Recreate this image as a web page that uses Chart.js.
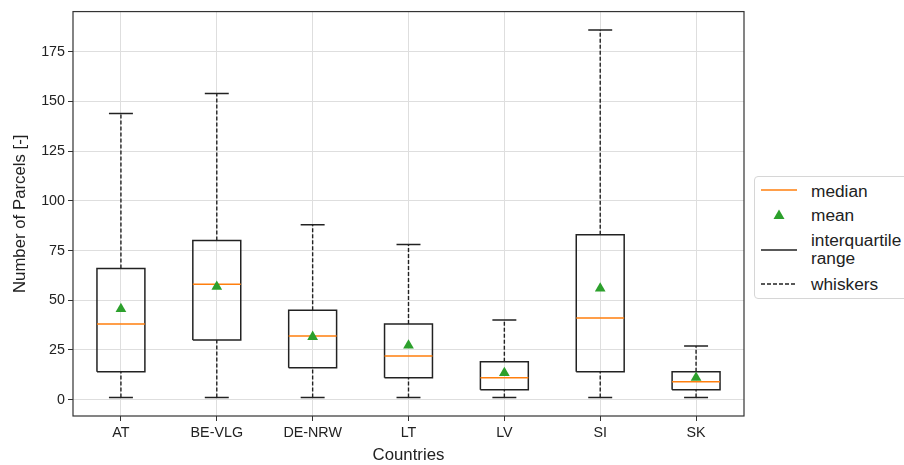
<!doctype html><html lang="en"><head>
<meta charset="UTF-8"><title>Number of Parcels per country</title>
<script src="https://cdn.jsdelivr.net/npm/chart.js@4/dist/chart.umd.min.js"></script>
<style>
 body{margin:0;background:#fff;font-family:"Liberation Sans",Arial,sans-serif}
 #wrap{position:relative;width:904px;height:465px}
 #legend{position:absolute;left:754px;top:176px;width:170px;height:123px;border:1px solid #d6d6d6;border-radius:4px;background:#fff;box-sizing:border-box}
 #legend .t{position:absolute;left:56px;font-size:17.3px;line-height:18px;color:#222;white-space:nowrap}
 #legend svg{position:absolute;left:0;top:0}
</style></head><body>
<div id="wrap">
  <canvas id="box" width="904" height="465"></canvas>
  <div id="legend">
    <svg width="60" height="123">
      <line x1="6" y1="13" x2="42" y2="13" stroke="#ff7f0e" stroke-width="1.5"/>
      <polygon points="24,32.5 29.5,42 18.5,42" fill="#2ca02c"/>
      <line x1="6" y1="73" x2="42" y2="73" stroke="#222" stroke-width="1.5"/>
      <line x1="6" y1="107" x2="42" y2="107" stroke="#222" stroke-width="1.4" stroke-dasharray="4,2"/>
    </svg>
    <div class="t" style="top:5px">median</div>
    <div class="t" style="top:29px">mean</div>
    <div class="t" style="top:54px">interquartile<br>range</div>
    <div class="t" style="top:98px">whiskers</div>
  </div>
</div>
<script>
// ----- data -----
const categories  = ['AT','BE-VLG','DE-NRW','LT','LV','SI','SK'];
const whiskerLow  = [1, 1, 1, 1, 1, 1, 1];
const q1          = [14, 30, 16, 11, 5, 14, 5];
const medians     = [38, 58, 32, 22, 11, 41, 9];
const q3          = [66, 80, 45, 38, 19, 83, 14];
const whiskerHigh = [144, 154, 88, 78, 40, 186, 27];
const means       = [45.6, 56.8, 31.6, 27.3, 13.4, 55.9, 11];
const yTicks      = [0, 25, 50, 75, 100, 125, 150, 175];

const BOX_HALF = 0.25, CAP_HALF = 0.125;
const GAP = {x:null, y:null};

// build segment lists (positions 1..n on a linear x scale)
const whiskerPts = [], capPts = [], boxPts = [], medPts = [];
categories.forEach((c,i)=>{
  const x = i+1;
  whiskerPts.push({x, y:q3[i]}, {x, y:whiskerHigh[i]}, GAP,
                  {x, y:whiskerLow[i]}, {x, y:q1[i]}, GAP);
  capPts.push({x:x-CAP_HALF, y:whiskerHigh[i]}, {x:x+CAP_HALF, y:whiskerHigh[i]}, GAP,
              {x:x-CAP_HALF, y:whiskerLow[i]},  {x:x+CAP_HALF, y:whiskerLow[i]},  GAP);
  boxPts.push({x:x-BOX_HALF, y:q1[i]}, {x:x+BOX_HALF, y:q1[i]}, {x:x+BOX_HALF, y:q3[i]},
              {x:x-BOX_HALF, y:q3[i]}, {x:x-BOX_HALF, y:q1[i]}, GAP);
  medPts.push({x:x-BOX_HALF, y:medians[i]}, {x:x+BOX_HALF, y:medians[i]}, GAP);
});
const meanPts = means.map((m,i)=>({x:i+1, y:m}));

const lineDs = (data, color, width, extra) => Object.assign({
  data, showLine:true, borderColor:color, borderWidth:width, pointRadius:0,
  pointHoverRadius:0, spanGaps:false, fill:false, borderCapStyle:'butt', tension:0
}, extra);

// frame round the plot area (top + right spines as well)
const frame = {
  id:'frame',
  afterDatasetsDraw(chart){
    const {ctx, chartArea:a} = chart;
    ctx.save();
    ctx.strokeStyle = '#333'; ctx.lineWidth = 1.2;
    ctx.strokeRect(a.left, a.top, a.right-a.left, a.bottom-a.top);
    ctx.restore();
  }
};

const tickFont  = {family:'"Liberation Sans", Arial, sans-serif', size:14.3};
const titleFont = {family:'"Liberation Sans", Arial, sans-serif', size:16.8};

new Chart(document.getElementById('box'), {
  type:'scatter',
  data:{datasets:[
    lineDs(whiskerPts, '#222', 1.4, {borderDash:[4,2], order:5}),
    lineDs(capPts,     '#222', 1.5, {order:4}),
    lineDs(boxPts,     '#222', 1.5, {order:3}),
    lineDs(medPts,     '#ff7f0e', 1.5, {order:2}),
    {data:meanPts, pointStyle:'triangle', pointRadius:6.2, pointHoverRadius:6.2,
     backgroundColor:'#2ca02c', borderColor:'#2ca02c', borderWidth:0, showLine:false, order:1}
  ]},
  options:{
    responsive:false, animation:false,
    layout:{padding:{left:0, top:10, right:160, bottom:0}},
    plugins:{legend:{display:false}, tooltip:{enabled:false}},
    scales:{
      x:{
        type:'linear', min:0.5, max:7.5,
        afterBuildTicks: s => { s.ticks = categories.map((c,i)=>({value:i+1})); },
        afterFit: s => { s.height = 49; },
        ticks:{callback:v=>categories[v-1] ?? '', autoSkip:false, maxRotation:0,
               font:tickFont, color:'#222', padding:3},
        grid:{color:'#dedede', lineWidth:1, tickLength:5, tickColor:'#333'},
        border:{display:false},
        title:{display:true, text:'Countries', font:titleFont, color:'#222', padding:{top:0,bottom:0}}
      },
      y:{
        min:-8.25, max:195.25,
        afterBuildTicks: s => { s.ticks = yTicks.map(v=>({value:v})); },
        afterFit: s => { s.width = 73; },
        ticks:{font:tickFont, color:'#222', padding:3},
        grid:{color:'#dedede', lineWidth:1, tickLength:5, tickColor:'#333'},
        border:{display:false},
        title:{display:true, text:'Number of Parcels [-]', font:titleFont, color:'#222', padding:{top:10,bottom:0}}
      }
    }
  },
  plugins:[frame]
});
</script>
</body></html>
